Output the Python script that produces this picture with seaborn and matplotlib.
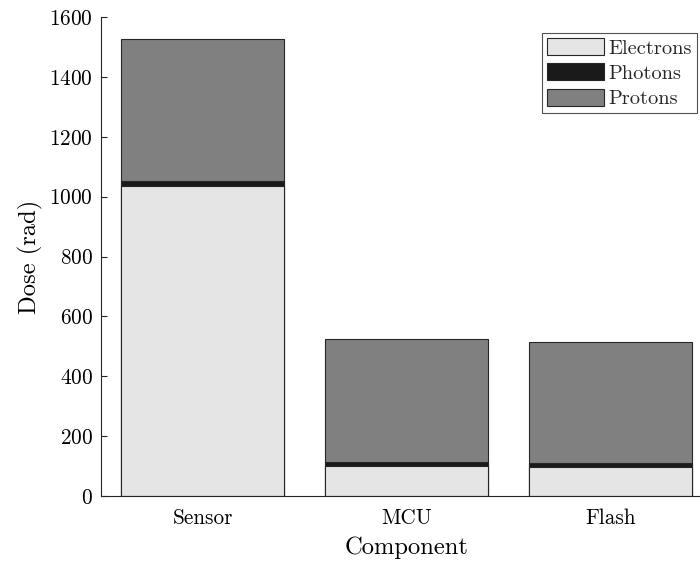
import matplotlib
matplotlib.use("Agg")
import matplotlib.pyplot as plt
import seaborn as sns
import pandas as pd
from matplotlib.patches import Patch

components = ["Sensor", "MCU", "Flash"]
electrons = [1035, 100, 97]
photons = [17, 13, 13]
protons = [474, 410, 406]

sns.set_style("white")
plt.rcParams["font.family"] = ["cmr10", "DejaVu Serif"]
plt.rcParams["mathtext.fontset"] = "cm"
plt.rcParams["axes.formatter.use_mathtext"] = True

df = pd.DataFrame({"Component": components, "Electrons": electrons,
                   "Photons": photons, "Protons": protons})
df["lvl1"] = df["Electrons"]
df["lvl2"] = df["Electrons"] + df["Photons"]
df["lvl3"] = df["lvl2"] + df["Protons"]

c_e, c_ph, c_pr = "#e5e5e5", "#1a1a1a", "#808080"
edge = "#262626"

fig = plt.figure(figsize=(7.0, 5.63), dpi=100)
ax = fig.add_axes([101/700, 1-496/563, (712-101)/700, (496-17)/563])

for col, colr in [("lvl3", c_pr), ("lvl2", c_ph), ("lvl1", c_e)]:
    sns.barplot(data=df, x="Component", y=col, order=components, color=colr,
                saturation=1, width=0.8, edgecolor=edge, linewidth=0.8, ax=ax,
                errorbar=None)

ax.set_xlim(-0.5, 2.5)
ax.set_ylim(0, 1600)
ax.set_yticks(range(0, 1601, 200))
ax.set_xlabel("Component", fontsize=17.7, color="black", labelpad=6)
ax.set_ylabel("Dose (rad)", fontsize=17.7, color="black", labelpad=4)
ax.tick_params(direction="in", length=4, width=0.8, labelsize=15.3,
               colors="#262626", labelcolor="black", left=True, bottom=True)
ax.tick_params(axis="x", pad=9)
ax.tick_params(axis="y", pad=6)
for s in ["top", "right"]:
    ax.spines[s].set_visible(False)
for s in ["left", "bottom"]:
    ax.spines[s].set_color(edge)
    ax.spines[s].set_linewidth(0.8)

handles = [Patch(facecolor=c_e, edgecolor=edge, linewidth=0.8, label="Electrons"),
           Patch(facecolor=c_ph, edgecolor=edge, linewidth=0.8, label="Photons"),
           Patch(facecolor=c_pr, edgecolor=edge, linewidth=0.8, label="Protons")]
leg = ax.legend(handles=handles, loc="upper right",
                bbox_to_anchor=(697/700, 1-33/563), bbox_transform=fig.transFigure,
                borderaxespad=0, fontsize=14.7, frameon=True, fancybox=False,
                edgecolor=edge, handlelength=2.8, handleheight=0.9,
                labelspacing=0.28, handletextpad=0.2, borderpad=0.25)
leg.get_frame().set_linewidth(0.8)

fig.savefig("out.png", dpi=100)
